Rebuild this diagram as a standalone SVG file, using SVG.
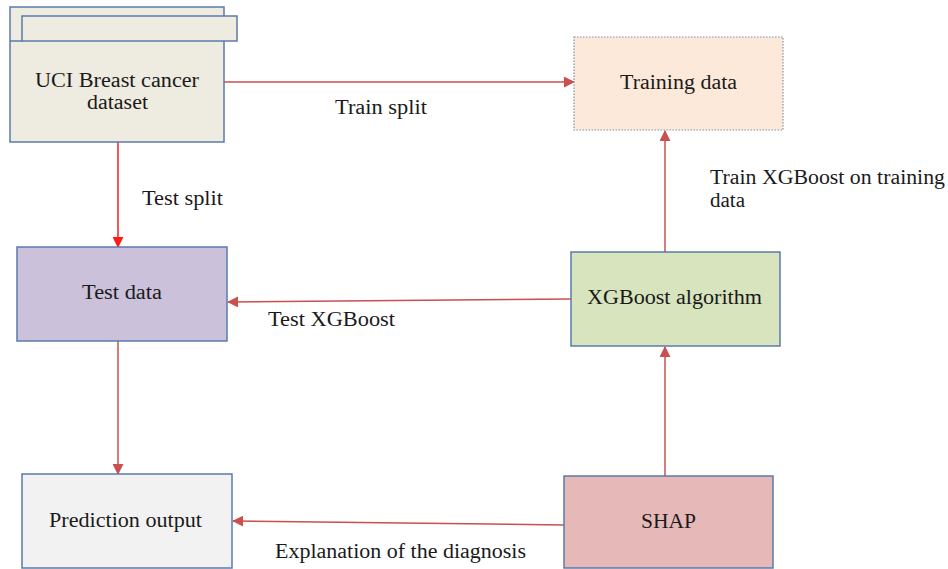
<svg xmlns="http://www.w3.org/2000/svg" width="948" height="569" viewBox="0 0 948 569">
  <style>
    .box { stroke: #5a7bab; stroke-width: 1.5; }
    .lbl { font-family: 'Liberation Serif', 'Times New Roman', serif; font-size: 20px; fill: #1a1a1a; }
    .conn { stroke: #c9504d; stroke-width: 1.5; fill: none; }
    .conn-red { stroke: #ff1a1a; stroke-width: 1.5; fill: none; }
  </style>
  <defs>
    <marker id="arr" viewBox="0 0 12 12" refX="11" refY="6" markerWidth="11" markerHeight="11" markerUnits="userSpaceOnUse" orient="auto">
      <path d="M0,0 L12,6 L0,12 z" fill="#c9504d"/>
    </marker>
    <marker id="arr-red" viewBox="0 0 12 12" refX="11" refY="6" markerWidth="11" markerHeight="11" markerUnits="userSpaceOnUse" orient="auto">
      <path d="M0,0 L12,6 L0,12 z" fill="#ff1a1a"/>
    </marker>
  </defs>

  <rect width="948" height="569" fill="#ffffff"/>

  <!-- connectors -->
  <g id="connectors">
    <line class="conn" x1="224" y1="82" x2="574" y2="82" marker-end="url(#arr)"/>
    <line class="conn-red" x1="118" y1="142" x2="118" y2="247" marker-end="url(#arr-red)"/>
    <line class="conn" x1="665" y1="252" x2="665" y2="131" marker-end="url(#arr)"/>
    <line class="conn" x1="571" y1="299" x2="228" y2="302" marker-end="url(#arr)"/>
    <line class="conn" x1="118" y1="341" x2="118" y2="474" marker-end="url(#arr)"/>
    <line class="conn" x1="665" y1="476" x2="665" y2="347" marker-end="url(#arr)"/>
    <line class="conn" x1="564" y1="525" x2="233" y2="521" marker-end="url(#arr)"/>
  </g>

  <!-- connector labels -->
  <g id="connector-labels">
    <text class="lbl" x="335" y="114" textLength="92" lengthAdjust="spacingAndGlyphs">Train split</text>
    <text class="lbl" x="142" y="205" textLength="81" lengthAdjust="spacingAndGlyphs">Test split</text>
    <text class="lbl" x="710" y="184" textLength="235" lengthAdjust="spacingAndGlyphs">Train XGBoost on training</text>
    <text class="lbl" x="710" y="207" textLength="35" lengthAdjust="spacingAndGlyphs">data</text>
    <text class="lbl" x="268" y="326" textLength="127" lengthAdjust="spacingAndGlyphs">Test XGBoost</text>
    <text class="lbl" x="275" y="558" textLength="251" lengthAdjust="spacingAndGlyphs">Explanation of the diagnosis</text>
  </g>

  <!-- stacked dataset node -->
  <g id="node-dataset">
    <rect class="box" x="10" y="7" width="214" height="135" fill="#eeebe0"/>
    <rect class="box" x="22" y="16" width="215" height="25" fill="#eeebe0"/>
    <line class="box" x1="10" y1="41" x2="22" y2="41"/>
    <text class="lbl" x="35" y="87" textLength="164" lengthAdjust="spacingAndGlyphs">UCI Breast cancer</text>
    <text class="lbl" x="87" y="109" textLength="61" lengthAdjust="spacingAndGlyphs">dataset</text>
  </g>

  <g id="node-training">
    <rect x="574" y="37" width="209" height="93" fill="#fde9d9" stroke="#7f8fa8" stroke-width="1.2" stroke-dasharray="1.5,1.5"/>
    <text class="lbl" x="620" y="89" textLength="117" lengthAdjust="spacingAndGlyphs">Training data</text>
  </g>

  <g id="node-test">
    <rect class="box" x="17" y="247" width="210" height="94" fill="#ccc1da"/>
    <text class="lbl" x="82" y="299" textLength="80" lengthAdjust="spacingAndGlyphs">Test data</text>
  </g>

  <g id="node-xgboost">
    <rect class="box" x="571" y="252" width="209" height="94" fill="#d7e4bd"/>
    <text class="lbl" x="587" y="304" textLength="175" lengthAdjust="spacingAndGlyphs">XGBoost algorithm</text>
  </g>

  <g id="node-prediction">
    <rect class="box" x="22" y="474" width="210" height="94" fill="#f2f2f2"/>
    <text class="lbl" x="49" y="527" textLength="153" lengthAdjust="spacingAndGlyphs">Prediction output</text>
  </g>

  <g id="node-shap">
    <rect class="box" x="564" y="476" width="209" height="92" fill="#e6b9b8"/>
    <text class="lbl" x="641" y="528" textLength="55" lengthAdjust="spacingAndGlyphs">SHAP</text>
  </g>
</svg>
